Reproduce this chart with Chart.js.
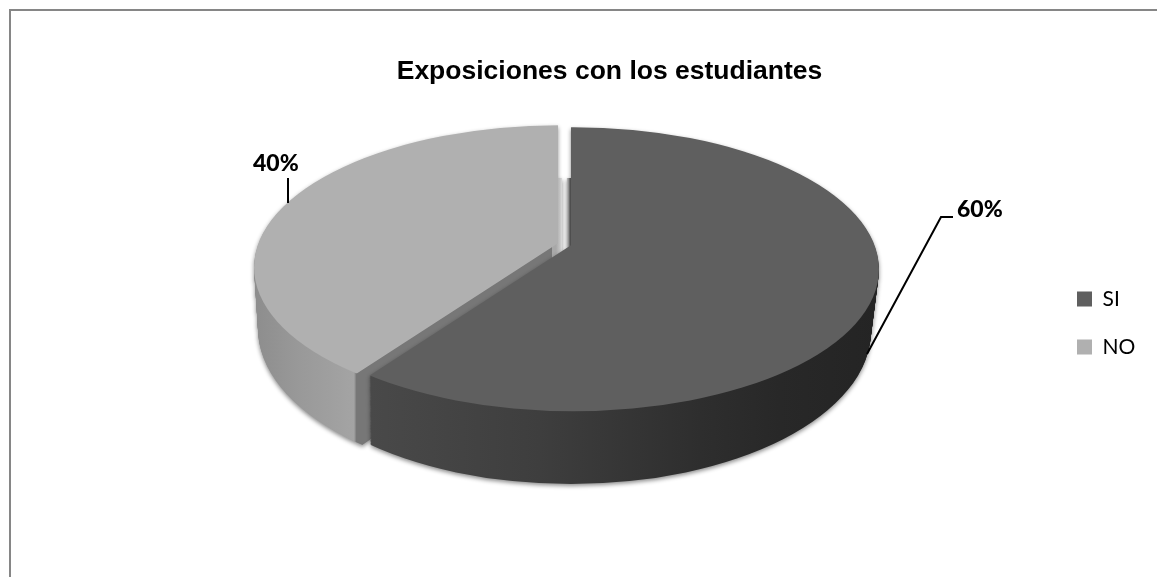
<!DOCTYPE html>
<html><head><meta charset="utf-8">
<style>html,body{margin:0;padding:0;background:#fff}canvas{display:block}</style>
<script src="https://cdn.jsdelivr.net/npm/chart.js@4/dist/chart.umd.js"></script>
</head><body><canvas id="c" width="1157" height="577"></canvas>
<script>
const categories = ["SI", "NO"];
const values = [60, 40];
const chartTitle = "Exposiciones con los estudiantes";
const topColors = ["#5f5f5f", "#b0b0b0"];

// projected pie geometry: top face -> bottom face of the extruded disc
const PIE_X = 564.5, PIE_Y_TOP = 244.3, PIE_Y_BOT = 309;
const RX_TOP = 306, RX_BOT = 300, RY_TOP = 142, RY_BOT = 153;
const SCALE_TOP = 0.47, SCALE_BOT = 0.498, CY_TOP = 24, CY_BOT = 21;
const EXPLODE = 6.8, CONVERGE = 4, ELL_DX_TOP = 2, ELL_DX_BOT = 0, STEPS = 64;
const GAP_TOP = 178;

const wallStops = [
  [[370,"#494949"],[540,"#3e3e3e"],[700,"#2e2e2e"],[780,"#282828"],[880,"#242424"]],
  [[250,"#8c8c8c"],[300,"#999999"],[354,"#a4a4a4"],[356.5,"#777777"],[600,"#777777"]]
];
const faceStops = [
  [[563,"#f4f4f4"],[568,"#a8a8a8"],[570,"#555555"],[572,"#3a3a3a"]],
  [[556,"#a8a8a8"],[560,"#c4c4c4"],[564,"#f4f4f4"]]
];

function gradient(ctx, stops, shift) {
  const x0 = stops[0][0], x1 = stops[stops.length-1][0];
  const g = ctx.createLinearGradient(x0+shift, 0, x1+shift, 0);
  stops.forEach(s => g.addColorStop((s[0]-x0)/(x1-x0), s[1]));
  return g;
}

function drawLayer(ctx, el, t, fill, rect) {
  const mid = (el.startAngle + el.endAngle) / 2;
  const s = SCALE_TOP + (SCALE_BOT-SCALE_TOP)*t;
  const dirX = Math.cos(mid), dirY = Math.sin(mid);
  const bx = PIE_X + dirX*EXPLODE;
  const ax = bx - Math.sign(dirX)*CONVERGE*t;
  const ay = PIE_Y_TOP + (PIE_Y_BOT-PIE_Y_TOP)*t + dirY*EXPLODE*s;
  const rx = RX_TOP + (RX_BOT-RX_TOP)*t;
  const ry = RY_TOP + (RY_BOT-RY_TOP)*t;
  const cy = ay + CY_TOP + (CY_BOT-CY_TOP)*t;
  const dx = ELL_DX_TOP + (ELL_DX_BOT-ELL_DX_TOP)*t;
  ctx.save();
  if (rect) { ctx.beginPath(); ctx.rect(rect[0],rect[1],rect[2],rect[3]); ctx.clip(); }
  ctx.beginPath();
  ctx.ellipse(bx+dx, cy, rx, ry, 0, 0, Math.PI*2);
  ctx.clip();
  ctx.translate(ax, ay);
  ctx.scale(1, s);
  ctx.translate(-el.x, -el.y);
  const proxy = Object.create(el);
  const shift = el.x - ax;
  proxy.options = Object.assign({}, el.options, {
    backgroundColor: typeof fill === "string" ? fill : gradient(ctx, fill, shift),
    borderWidth: 0
  });
  el.draw.call(proxy, ctx);
  ctx.restore();
}

const pie3d = {
  id: "pie3d",
  afterLayout(chart) {
    const tb = chart.titleBlock; tb.left += 31; tb.right += 31;
    const lg = chart.legend; const w = lg.width, h = lg.height;
    lg.left = 1050; lg.right = lg.left + w;
    lg.top = 261.5; lg.bottom = lg.top + h;
  },
  beforeDatasetsDraw(chart) {
    const ctx = chart.ctx;
    const els = chart.getDatasetMeta(0).data;
    [1, 0].forEach(i => {
      const el = els[i];
      const off = document.createElement("canvas");
      off.width = chart.width; off.height = chart.height;
      const o = off.getContext("2d");
      for (let k = STEPS; k >= 1; k--) drawLayer(o, el, k/STEPS, wallStops[i]);
      for (let k = STEPS; k >= 1; k--) drawLayer(o, el, k/STEPS, faceStops[i], [PIE_X-12, GAP_TOP, 24, 82]);
      o.clearRect(PIE_X-12, 100, 24, GAP_TOP-100);
      drawLayer(o, el, 0, topColors[i]);
      ctx.save();
      ctx.shadowColor = "rgba(0,0,0,0.45)";
      ctx.shadowBlur = 4;
      ctx.shadowOffsetY = 2;
      ctx.drawImage(off, 0, 0);
      ctx.restore();
    });
    return false;
  },
  afterDraw(chart) {
    const ctx = chart.ctx;
    ctx.save();
    // frame
    ctx.strokeStyle = "#868686"; ctx.lineWidth = 2;
    ctx.beginPath();
    ctx.moveTo(10, 577); ctx.lineTo(10, 10); ctx.lineTo(1157, 10);
    ctx.stroke();
    // leaders
    ctx.strokeStyle = "#000"; ctx.lineWidth = 2;
    ctx.beginPath(); ctx.moveTo(867, 354); ctx.lineTo(941, 217); ctx.lineTo(953, 217); ctx.stroke();
    ctx.beginPath(); ctx.moveTo(288, 178); ctx.lineTo(288, 203); ctx.stroke();
    // percent labels
    const total = values.reduce((a,b) => a+b, 0);
    ctx.fillStyle = "#000"; ctx.font = "900 23px Lato";
    ctx.textBaseline = "alphabetic"; ctx.textAlign = "left";
    ctx.fillText(Math.round(values[0]/total*100) + "%", 957, 217);
    ctx.fillText(Math.round(values[1]/total*100) + "%", 253, 171);
    ctx.restore();
  }
};

new Chart(document.getElementById("c"), {
  type: "pie",
  data: { labels: categories, datasets: [{ data: values, backgroundColor: topColors, borderWidth: 0 }] },
  options: {
    responsive: false, animation: false, radius: 420,
    plugins: {
      title: { display: true, text: chartTitle, color: "#000", padding: { top: 56, bottom: 0 },
               font: { family: "Liberation Sans", weight: "bold", size: 26.5 } },
      legend: { position: "right", align: "start",
        labels: { boxWidth: 15, boxHeight: 15, padding: 27, color: "#000", font: { family: "Lato", size: 21 } } },
      tooltip: { enabled: false }
    }
  },
  plugins: [pie3d]
});
</script></body></html>
